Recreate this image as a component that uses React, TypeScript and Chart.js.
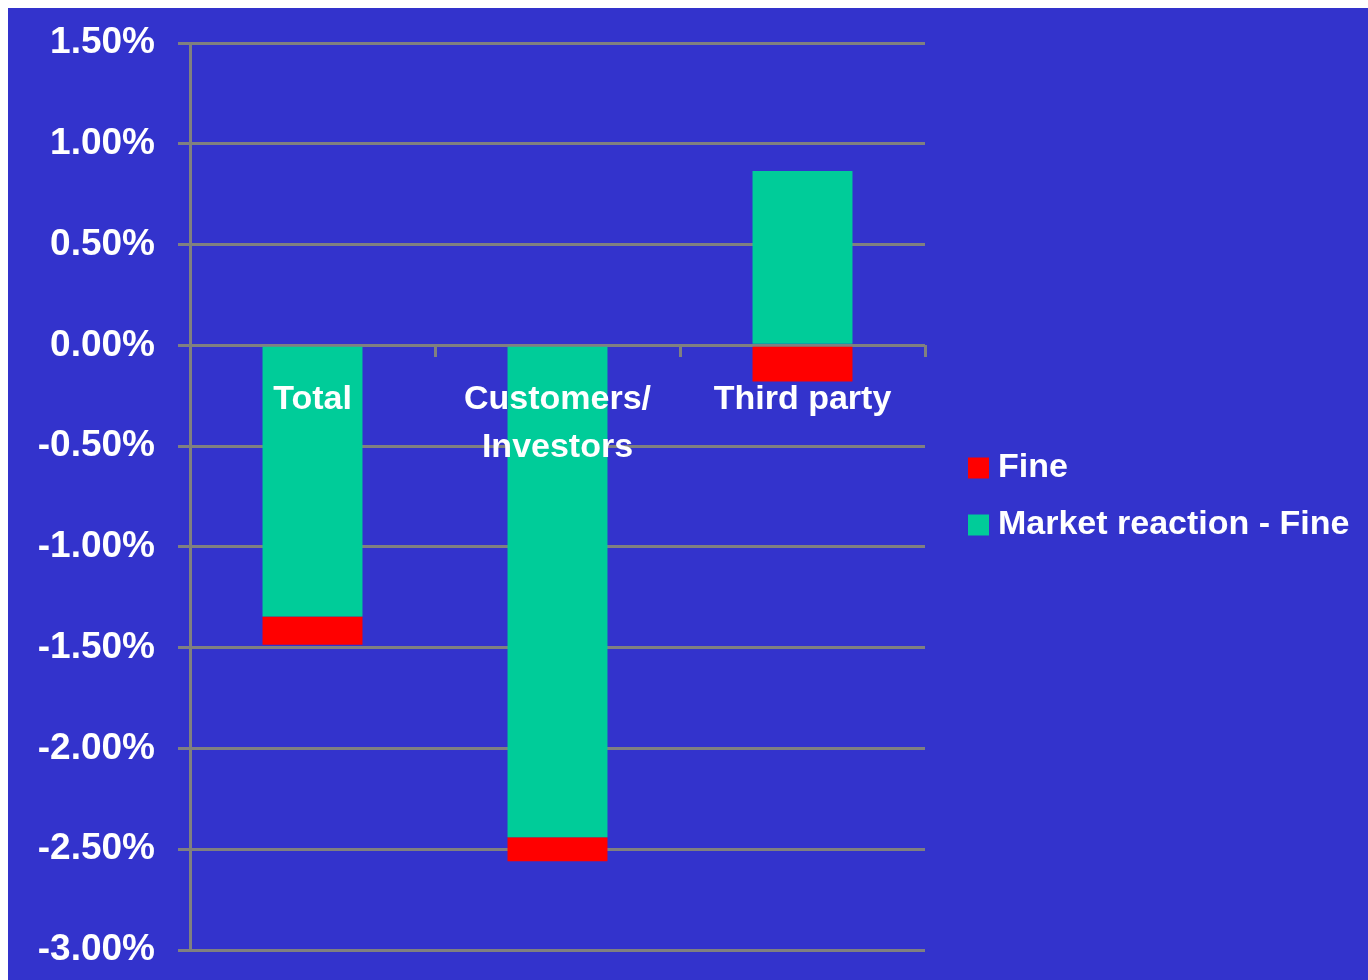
import React, { useEffect, useRef } from 'react';
import { Chart, registerables } from 'chart.js';

Chart.register(...registerables);

// ---- Data ----
const categories: (string | string[])[] = ['Total', ['Customers/', 'Investors'], 'Third party'];
const fineValues: number[] = [-0.14, -0.12, -0.18];
const marketMinusFineValues: number[] = [-1.345, -2.44, 0.865];
const seriesNames: string[] = ['Market reaction - Fine', 'Fine'];
const yMin = -3;
const yMax = 1.5;
const yStep = 0.5;

// ---- Style ----
const BG = '#3333CC';
const GREEN = '#00CC99';
const RED = '#FF0000';
const GRID = '#808080';
const WHITE = '#FFFFFF';
const FONT = "'Liberation Sans', Arial, Helvetica, sans-serif";
const W = 1360;
const H = 972;

export default function App() {
  const ref = useRef<HTMLCanvasElement>(null);

  useEffect(() => {
    if (!ref.current) return;
    const defaultGen = (Chart.defaults as any).plugins.legend.labels.generateLabels;
    const chart = new Chart(ref.current, {
      type: 'bar',
      data: {
        labels: categories as any,
        datasets: [
          { label: seriesNames[0], data: marketMinusFineValues, backgroundColor: GREEN, borderWidth: 0, stack: 's' },
          { label: seriesNames[1], data: fineValues, backgroundColor: RED, borderWidth: 0, stack: 's' },
        ],
      },
      options: {
        responsive: false,
        animation: false,
        layout: { padding: { left: 0, top: 35, right: 15, bottom: 30 } },
        datasets: { bar: { categoryPercentage: 1, barPercentage: 0.408 } } as any,
        scales: {
          x: {
            stacked: true,
            position: { y: 0 } as any,
            offset: true,
            grid: {
              display: true,
              drawOnChartArea: false,
              drawTicks: true,
              tickLength: 12,
              color: GRID,
              lineWidth: 3,
              offset: true,
            },
            border: { display: false },
            ticks: {
              z: 1,
              color: WHITE,
              font: { family: FONT, size: 34, weight: 'bold', lineHeight: 1.42 } as any,
              padding: 18,
              maxRotation: 0,
              autoSkip: false,
            },
          } as any,
          y: {
            stacked: true,
            min: yMin,
            max: yMax,
            position: 'left',
            ticks: {
              stepSize: yStep,
              callback: (v: any) => Number(v).toFixed(2) + '%',
              color: WHITE,
              font: { family: FONT, size: 37, weight: 'bold' } as any,
              padding: 23,
            },
            grid: { color: GRID, lineWidth: 3, tickLength: 12, drawTicks: true },
            border: { display: true, color: GRID, width: 3 },
            afterFit: (s: any) => {
              s.width = 182;
              s.paddingTop = 0;
              s.paddingBottom = 0;
            },
          },
          gap: {
            type: 'linear',
            position: 'right',
            display: true,
            ticks: { display: false },
            grid: { display: false },
            border: { display: false },
            afterFit: (s: any) => {
              s.width = 28;
              s.paddingTop = 0;
              s.paddingBottom = 0;
            },
          } as any,
        },
        plugins: {
          legend: {
            display: true,
            position: 'right',
            reverse: true,
            maxWidth: 400,
            labels: {
              color: WHITE,
              font: { family: FONT, size: 34, weight: 'bold' } as any,
              boxWidth: 5,
              boxHeight: 5,
              padding: 23,
              generateLabels: (c: any) =>
                defaultGen(c).map((it: any) => ({
                  ...it,
                  strokeStyle: it.fillStyle,
                  lineWidth: 16,
                  lineJoin: 'miter',
                  lineCap: 'butt',
                })),
            },
          } as any,
          tooltip: { enabled: false },
        },
      },
    });
    return () => chart.destroy();
  }, []);

  return (
    <div style={{ position: 'absolute', left: 8, top: 8, width: W, height: H, background: BG }}>
      <canvas ref={ref} width={W} height={H} style={{ display: 'block' }} />
    </div>
  );
}
